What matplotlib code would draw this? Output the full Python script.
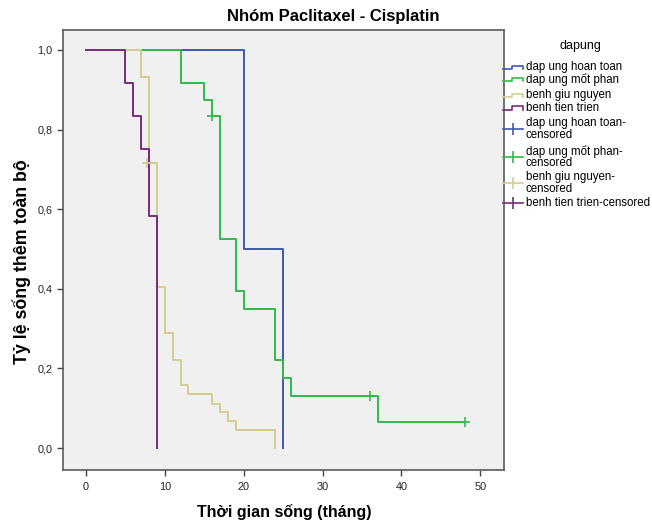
import matplotlib
matplotlib.use("Agg")
import matplotlib.pyplot as plt
from matplotlib.lines import Line2D
from matplotlib.ticker import FuncFormatter

plt.rcParams['font.family'] = ['Liberation Sans', 'DejaVu Sans']

# Kaplan-Meier step data per response group (time in months, survival)
hoan_toan_t = [0, 20, 25]
hoan_toan_s = [1.0, 0.50, 0.0]

mot_phan_t = [0, 12, 15, 16, 17, 19, 20, 24, 25, 26, 37, 48]
mot_phan_s = [1.0, 0.917, 0.875, 0.833, 0.524, 0.395, 0.350, 0.220, 0.175, 0.132, 0.066, 0.066]
mot_phan_cens_t = [16, 36, 48]
mot_phan_cens_s = [0.833, 0.132, 0.066]

giu_nguyen_t = [0, 7, 8, 9, 10, 11, 12, 13, 16, 17, 18, 19, 24]
giu_nguyen_s = [1.0, 0.933, 0.716, 0.405, 0.290, 0.222, 0.159, 0.135, 0.112, 0.091, 0.068, 0.045, 0.0]
giu_nguyen_cens_t = [7.8]
giu_nguyen_cens_s = [0.716]

tien_trien_t = [0, 5, 6, 7, 8, 9]
tien_trien_s = [1.0, 0.917, 0.833, 0.75, 0.583, 0.0]

x_ticks = [0, 10, 20, 30, 40, 50]
y_ticks = [0.0, 0.2, 0.4, 0.6, 0.8, 1.0]

c_blue = '#3f58ae'
c_green = '#2fbb4c'
c_tan = '#d6cd93'
c_purple = '#7a2a7e'

W, H = 652, 520
fig = plt.figure(figsize=(W / 100, H / 100), dpi=100)
ax = fig.add_axes([63 / W, 1 - 470 / H, 441 / W, 440 / H])
ax.set_facecolor('#f0f0f0')

lw = 1.4
ax.step(hoan_toan_t, hoan_toan_s, where='post', color=c_blue, lw=lw, zorder=2)
ax.step(mot_phan_t, mot_phan_s, where='post', color=c_green, lw=lw, zorder=3)
ax.step(giu_nguyen_t, giu_nguyen_s, where='post', color=c_tan, lw=lw, zorder=4)
ax.step(tien_trien_t, tien_trien_s, where='post', color=c_purple, lw=lw, zorder=5)
ax.plot(mot_phan_cens_t, mot_phan_cens_s, ls='none', marker='+', ms=7, mew=1.2,
        color=c_green, zorder=6)
ax.plot(giu_nguyen_cens_t, giu_nguyen_cens_s, ls='none', marker='+', ms=7, mew=1.2,
        color=c_tan, zorder=6)

ax.set_xlim(-2.9, 53.0)
ax.set_ylim(-0.055, 1.05)
ax.set_xticks(x_ticks)
ax.set_yticks(y_ticks)
ax.yaxis.set_major_formatter(FuncFormatter(lambda v, p: f'{v:.1f}'.replace('.', ',')))
ax.tick_params(labelsize=7.8, length=4, width=1, color='#444444', labelcolor='#222222')
ax.tick_params(axis='x', pad=5)
for sp in ax.spines.values():
    sp.set_color('#5a5a5a')
    sp.set_linewidth(1.2)


def px(x, y):
    return x / W, 1 - y / H


fig.text(*px(333, 17), 'Nhóm Paclitaxel - Cisplatin', fontsize=12, fontweight='bold',
         ha='center', va='center')
fig.text(*px(284, 512), 'Thời gian sống (tháng)', fontsize=11.5, fontweight='bold',
         ha='center', va='center')
fig.text(*px(22, 262), 'Tỷ lệ sống thêm toàn bộ', fontsize=12.8, fontweight='bold',
         ha='center', va='center', rotation=90)

# legend drawn outside the axes on the right
fig.text(*px(580, 46), 'dapung', fontsize=9, ha='center', va='center')

step_items = [('dap ung hoan toan', c_blue, 67),
              ('dap ung mốt phan', c_green, 79),
              ('benh giu nguyen', c_tan, 95),
              ('benh tien trien', c_purple, 108)]
for label, col, y in step_items:
    xs = [503, 512, 512, 523, 523]
    ys = [y + 1.5, y + 1.5, y - 1.5, y - 1.5, y + 1.5]
    pts = [px(a, b) for a, b in zip(xs, ys)]
    fig.add_artist(Line2D([p[0] for p in pts], [p[1] for p in pts], color=col, lw=1.2,
                          transform=fig.transFigure))
    fig.text(*px(526, y), label, fontsize=8.3, ha='left', va='center')

cens_items = [('dap ung hoan toan-\ncensored', c_blue, 129),
              ('dap ung mốt phan-\ncensored', c_green, 157),
              ('benh giu nguyen-\ncensored', c_tan, 183),
              ('benh tien trien-censored', c_purple, 203)]
for label, col, y in cens_items:
    a0, b0 = px(503, y)
    a1, _ = px(523, y)
    fig.add_artist(Line2D([a0, a1], [b0, b0], color=col, lw=1.2, transform=fig.transFigure))
    mx, my = px(513, y)
    fig.add_artist(Line2D([mx], [my], marker='|', ms=8, mew=1.2, color=col,
                          transform=fig.transFigure))
    fig.text(*px(526, y), label, fontsize=8.3, ha='left', va='center', linespacing=0.95)

fig.savefig('out.png', dpi=100, facecolor='white')
